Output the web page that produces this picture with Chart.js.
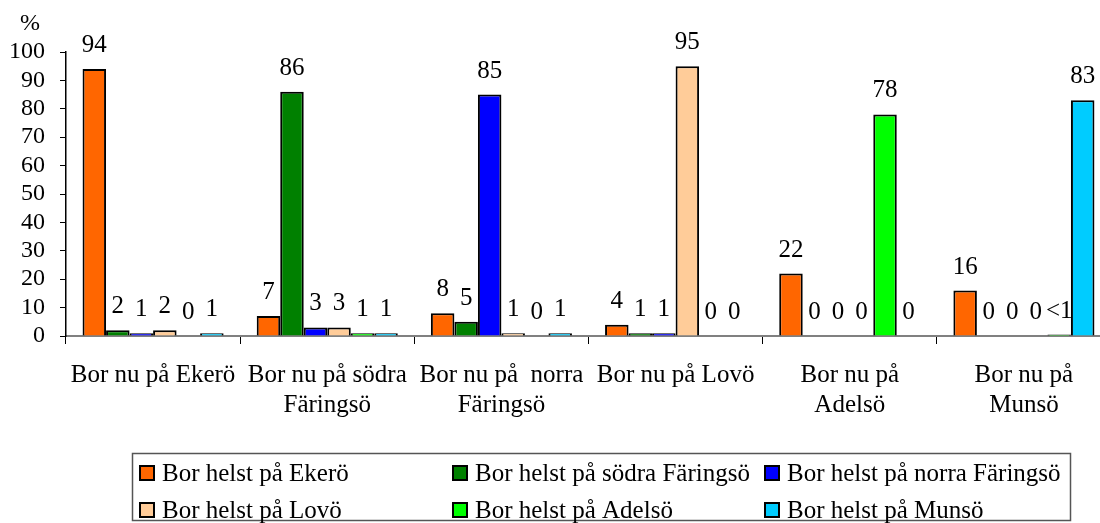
<!DOCTYPE html>
<html>
<head>
<meta charset="utf-8">
<script src="https://cdn.jsdelivr.net/npm/chart.js@4/dist/chart.umd.min.js"></script>
<style>
  html, body { margin: 0; padding: 0; overflow: hidden; background: #fff; }
  #wrap { position: relative; width: 1116px; height: 523px; }
</style>
</head>
<body>
<div id="wrap"><canvas id="c" width="1116" height="523"></canvas></div>
<script>
// ---- Data ----
const categories = [
  'Bor nu på Ekerö',
  ['Bor nu på södra', 'Färingsö'],
  ['Bor nu på  norra', 'Färingsö'],
  'Bor nu på Lovö',
  ['Bor nu på', 'Adelsö'],
  ['Bor nu på', 'Munsö']
];
const seriesNames = [
  'Bor helst på Ekerö',
  'Bor helst på södra Färingsö',
  'Bor helst på norra Färingsö',
  'Bor helst på Lovö',
  'Bor helst på Adelsö',
  'Bor helst på Munsö'
];
const ekero         = [94, 7, 8, 4, 22, 16];
const sodraFaringso = [2, 86, 5, 1, 0, 0];
const norraFaringso = [1, 3, 85, 1, 0, 0];
const lovo          = [2, 3, 1, 95, 0, 0];
const adelso        = [0, 1, 0, 0, 78, 0.5];
const munso         = [1, 1, 1, 0, 0, 83];
const yTicks = [0, 10, 20, 30, 40, 50, 60, 70, 80, 90, 100];
const yUnit = '%';

const seriesValues = [ekero, sodraFaringso, norraFaringso, lovo, adelso, munso];
const colors = ['#FF6600', '#008000', '#0000FF', '#FFCC99', '#00FF00', '#00CCFF'];
const FONT = "'Liberation Serif', 'Times New Roman', serif";

function fmt(v) { return (v > 0 && v < 1) ? '<1' : String(v); }

const valueLabels = {
  id: 'valueLabels',
  afterDatasetsDraw(chart) {
    const ctx = chart.ctx;
    ctx.save();
    ctx.font = '25px ' + FONT;
    ctx.fillStyle = '#000';
    ctx.textAlign = 'center';
    ctx.textBaseline = 'alphabetic';
    chart.data.datasets.forEach((ds, i) => {
      const meta = chart.getDatasetMeta(i);
      meta.data.forEach((bar, j) => {
        ctx.fillText(fmt(ds.data[j]), bar.x, bar.y - 17);
      });
    });
    ctx.restore();
  }
};

const extras = {
  id: 'extras',
  afterDraw(chart) {
    const ctx = chart.ctx;
    ctx.save();
    // unit label
    ctx.font = '24px ' + FONT;
    ctx.fillStyle = '#000';
    ctx.textAlign = 'center';
    ctx.textBaseline = 'middle';
    ctx.fillText(yUnit, 30, 24);
    // legend box
    ctx.strokeStyle = '#555';
    ctx.lineWidth = 1.5;
    ctx.strokeRect(132.5, 453.5, 938, 67);
    const colX = [139, 452, 764];
    const rowY = [465, 502];
    ctx.font = '25px ' + FONT;
    ctx.textAlign = 'left';
    ctx.textBaseline = 'middle';
    seriesNames.forEach((name, i) => {
      const x = colX[i % 3], y = rowY[Math.floor(i / 3)];
      ctx.fillStyle = colors[i];
      ctx.fillRect(x, y, 16, 16);
      ctx.strokeStyle = '#000';
      ctx.lineWidth = 2;
      ctx.strokeRect(x + 1, y + 1, 14, 14);
      ctx.fillStyle = '#000';
      ctx.fillText(name, x + 23, y + 9);
    });
    ctx.restore();
  }
};

new Chart(document.getElementById('c'), {
  type: 'bar',
  data: {
    labels: categories,
    datasets: seriesValues.map((vals, i) => ({
      label: seriesNames[i],
      data: vals,
      backgroundColor: colors[i],
      borderColor: '#000',
      borderWidth: 2,
      categoryPercentage: 0.81,
      barPercentage: 1
    }))
  },
  options: {
    responsive: false,
    animation: false,
    layout: { padding: { top: 52, right: 5, bottom: 0, left: 0 } },
    plugins: { legend: { display: false }, tooltip: { enabled: false }, title: { display: false } },
    scales: {
      x: {
        grid: { display: true, drawOnChartArea: false, offset: true, tickLength: 8, color: '#000', lineWidth: 1 },
        border: { display: true, color: '#808080', width: 2 },
        ticks: { color: '#000', font: { family: FONT, size: 25, lineHeight: 1.2 }, padding: 16, maxRotation: 0, autoSkip: false },
        afterFit(scale) { scale.height = 187; }
      },
      y: {
        min: 0, max: 100,
        afterBuildTicks(scale) { scale.ticks = yTicks.map(v => ({ value: v })); },
        grid: { display: true, drawOnChartArea: false, tickLength: 6, color: '#000' },
        border: { display: true, color: '#000', width: 1.5 },
        ticks: { color: '#000', font: { family: FONT, size: 24 }, padding: 15, autoSkip: false },
        afterFit(scale) { scale.width = 66; }
      }
    }
  },
  plugins: [valueLabels, extras]
});
</script>
</body>
</html>
